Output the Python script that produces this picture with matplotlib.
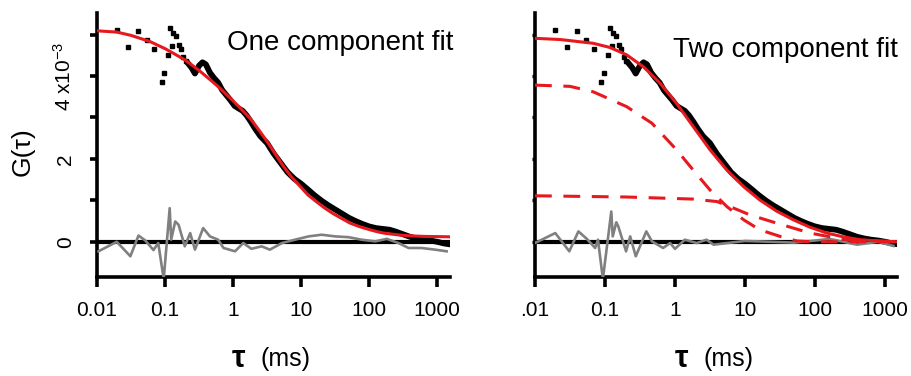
import matplotlib
matplotlib.use("Agg")
import matplotlib.pyplot as plt

plt.rcParams['font.family'] = ['Liberation Sans', 'DejaVu Sans']
plt.rcParams['mathtext.fontset'] = 'custom'
plt.rcParams['mathtext.rm'] = 'Liberation Sans'
plt.rcParams['mathtext.it'] = 'Liberation Sans'

###data (tau in ms, G in units of 1e-3)
tau_data = [0.0195, 0.0288, 0.0398, 0.0537, 0.0692, 0.0891, 0.0977, 0.110, 0.117, 0.126,
            0.132, 0.145, 0.158, 0.170, 0.186, 0.200,
            0.219, 0.245, 0.275, 0.316, 0.355, 0.398, 0.457, 0.525, 0.603, 0.692,
            0.794, 0.912, 1.05, 1.20, 1.38, 1.58, 1.82, 2.09, 2.51, 3.16,
            3.98, 5.01, 6.31, 7.94, 10.0, 12.6, 15.8, 20.0, 25.1, 31.6,
            39.8, 50.1, 63.1, 79.4, 100, 126, 158, 200, 251, 316,
            398, 501, 631, 794, 1000, 1259, 1514]
g_data = [5.10, 4.69, 5.08, 4.86, 4.64, 3.86, 4.08, 4.51, 5.17, 4.72,
          5.04, 4.96, 4.75, 4.64, 4.47, 4.35,
          4.30, 4.20, 4.06, 4.25, 4.33, 4.28, 4.08, 3.95, 3.84, 3.66,
          3.54, 3.42, 3.28, 3.22, 3.16, 3.05, 2.90, 2.74, 2.55, 2.38,
          2.12, 1.90, 1.68, 1.52, 1.40, 1.26, 1.12, 0.99, 0.88, 0.78,
          0.68, 0.58, 0.50, 0.43, 0.37, 0.33, 0.31, 0.29, 0.24, 0.18,
          0.12, 0.08, 0.05, 0.03, 0.00, -0.04, -0.06]
n_scatter = 16   # early points shown as single squares

tau_fit1 = [0.01, 0.0195, 0.0316, 0.0603, 0.1, 0.132, 0.2, 0.324, 0.5, 0.646, 1.0, 1.32,
            1.78, 2.34, 3.16, 4.17, 5.50, 7.24, 9.77, 12.6, 17.0, 22.4, 29.5, 39.8,
            52.5, 70.8, 93.3, 126, 162, 288, 447, 631, 1549]
g_fit1 = [5.09, 5.06, 4.98, 4.83, 4.66, 4.55, 4.38, 4.12, 3.86, 3.70, 3.40, 3.20,
          2.98, 2.72, 2.42, 2.12, 1.82, 1.56, 1.33, 1.13, 0.96, 0.81, 0.68, 0.56,
          0.45, 0.37, 0.31, 0.25, 0.21, 0.16, 0.14, 0.13, 0.12]

tau_fit2 = [0.01, 0.0229, 0.0676, 0.117, 0.204, 0.355, 0.617, 1.05, 1.82, 3.16, 5.50,
            9.55, 16.2, 28.2, 49.0, 85.1, 148, 251, 437, 794, 1479]
g_fit2 = [4.91, 4.88, 4.79, 4.69, 4.51, 4.22, 3.82, 3.34, 2.78, 2.22, 1.73,
          1.33, 1.01, 0.74, 0.53, 0.35, 0.21, 0.12, 0.05, 0.02, 0.0]

tau_compA = [0.01, 0.0316, 0.0676, 0.204, 0.468, 1.05, 1.82, 3.16, 5.50, 9.55, 16.2,
             31.6, 55.0, 100, 1479]
g_compA = [3.78, 3.75, 3.62, 3.26, 2.86, 2.22, 1.73, 1.25, 0.85, 0.53, 0.29,
           0.13, 0.02, 0.0, 0.0]

tau_compB = [0.01, 0.204, 1.82, 3.98, 6.92, 11.7, 28.2, 85.1, 251, 1479]
g_compB = [1.11, 1.08, 1.03, 0.97, 0.81, 0.65, 0.45, 0.21, 0.06, 0.0]

tau_res1 = [0.0105, 0.0195, 0.0309, 0.0407, 0.0513, 0.0676, 0.0794, 0.0955, 0.117, 0.123,
            0.141, 0.158, 0.195, 0.234, 0.275, 0.363, 0.457, 0.603, 0.724, 1.07,
            1.41, 1.86, 2.63, 3.47, 5.25, 8.13, 12.9, 20.0, 31.6, 50.1,
            77.6, 123, 182, 269, 380, 589, 933, 1380]
g_res1 = [-0.23, 0.0, -0.35, 0.15, 0.03, -0.20, -0.03, -0.90, 0.81, 0.05,
          0.49, 0.41, -0.11, 0.21, -0.19, 0.33, 0.13, 0.05, -0.15, -0.23,
          -0.03, -0.17, -0.11, -0.19, -0.03, 0.05, 0.13, 0.17, 0.13, 0.11,
          0.05, 0.01, 0.07, -0.03, -0.15, -0.15, -0.19, -0.23]

tau_res2 = [0.01, 0.0195, 0.0309, 0.0417, 0.055, 0.0724, 0.0794, 0.0933, 0.123, 0.129,
            0.145, 0.155, 0.200, 0.229, 0.275, 0.389, 0.468, 0.676, 0.851, 1.0,
            1.38, 2.04, 2.82, 3.55, 10, 50, 100, 162, 398, 800, 1318]
g_res2 = [-0.03, 0.21, -0.23, 0.25, 0.07, -0.15, 0.05, -0.90, 0.73, 0.13,
          0.47, 0.37, -0.23, 0.13, -0.35, 0.25, 0.01, -0.15, -0.03, -0.17,
          0.05, -0.03, 0.05, -0.07, 0.02, -0.02, 0.03, 0.07, -0.07, 0.0, -0.10]

xticks = [0.01, 0.1, 1, 10, 100, 1000]
xlabels_left = ['0.01', '0.1', '1', '10', '100', '1000']
xlabels_right = ['.01', '0.1', '1', '10', '100', '1000']

red = '#e8191e'
grey = '#808080'

W, H = 912, 376
fig = plt.figure(figsize=(W / 100, H / 100), dpi=100)
ax1 = fig.add_axes([0.1064, 0.2633, 0.3871, 0.7021])
ax2 = fig.add_axes([0.5866, 0.2633, 0.3969, 0.7021])

def style(ax, xmax, labels):
    ax.set_xscale('log')
    ax.set_xlim(0.01, xmax)
    ax.set_ylim(-0.85, 5.52)
    for s in ['top', 'right']:
        ax.spines[s].set_visible(False)
    for s in ['left', 'bottom']:
        ax.spines[s].set_linewidth(2.6)
    ax.set_xticks(xticks)
    ax.set_xticklabels(labels, fontsize=15)
    ax.xaxis.set_minor_locator(matplotlib.ticker.NullLocator())
    ax.tick_params(axis='x', length=7, width=2.6, pad=10)
    ax.axhline(0, color='black', lw=3, zorder=1)

def xlabel(xc):
    # tau glyph and unit, placed under the axes centre (pixel coords)
    fig.text((xc - 28) / W, 1 - 367 / H, '\u03c4', ha='right', va='baseline',
             fontsize=22, fontweight='bold')
    fig.text((xc - 12) / W, 1 - 366 / H, '(ms)', ha='left', va='baseline', fontsize=18)

style(ax1, 1549, xlabels_left)
style(ax2, 1479, xlabels_right)
xlabel(273)
xlabel(716)

###left panel
ax1.plot(tau_data[:n_scatter], g_data[:n_scatter], 's', color='black', ms=3.2, zorder=2)
ax1.plot(tau_data[n_scatter:], g_data[n_scatter:], '-', color='black', lw=4.2, zorder=2)
ax1.plot(tau_res1, g_res1, '-', color=grey, lw=1.9, zorder=3)
ax1.plot(tau_fit1, g_fit1, '-', color=red, lw=2.2, zorder=4)
ax1.set_yticks([0, 1, 2, 3, 4, 5])
ax1.set_yticklabels(['0', '', '2', '', '4 x10$^{-3}$', ''], rotation=90, va='center', fontsize=15)
ax1.tick_params(axis='y', length=5, width=2.6, pad=11)
fig.text(23 / W, 1 - 152 / H, 'G(\u03c4)', rotation=90, ha='center', va='center', fontsize=19)
ax1.text(1.008, 0.86, 'One component fit', transform=ax1.transAxes, ha='right',
         va='baseline', fontsize=20)

###right panel
ax2.plot(tau_data[:n_scatter], g_data[:n_scatter], 's', color='black', ms=3.2, zorder=2)
ax2.plot(tau_data[n_scatter:], g_data[n_scatter:], '-', color='black', lw=4.2, zorder=2)
ax2.plot(tau_res2, g_res2, '-', color=grey, lw=1.9, zorder=3)
ax2.plot(tau_compA, g_compA, color=red, lw=2.2, dashes=(5.5, 3.8), zorder=4)
ax2.plot(tau_compB, g_compB, color=red, lw=2.2, dashes=(5.5, 3.8), zorder=4)
ax2.plot(tau_fit2, g_fit2, '-', color=red, lw=2.2, zorder=4)
ax2.set_yticks([0, 1, 2, 3, 4, 5])
ax2.set_yticklabels([])
ax2.tick_params(axis='y', length=2, width=2.4)
ax2.text(1.003, 0.833, 'Two component fit', transform=ax2.transAxes, ha='right',
         va='baseline', fontsize=20)

fig.savefig('out.png', dpi=100)
